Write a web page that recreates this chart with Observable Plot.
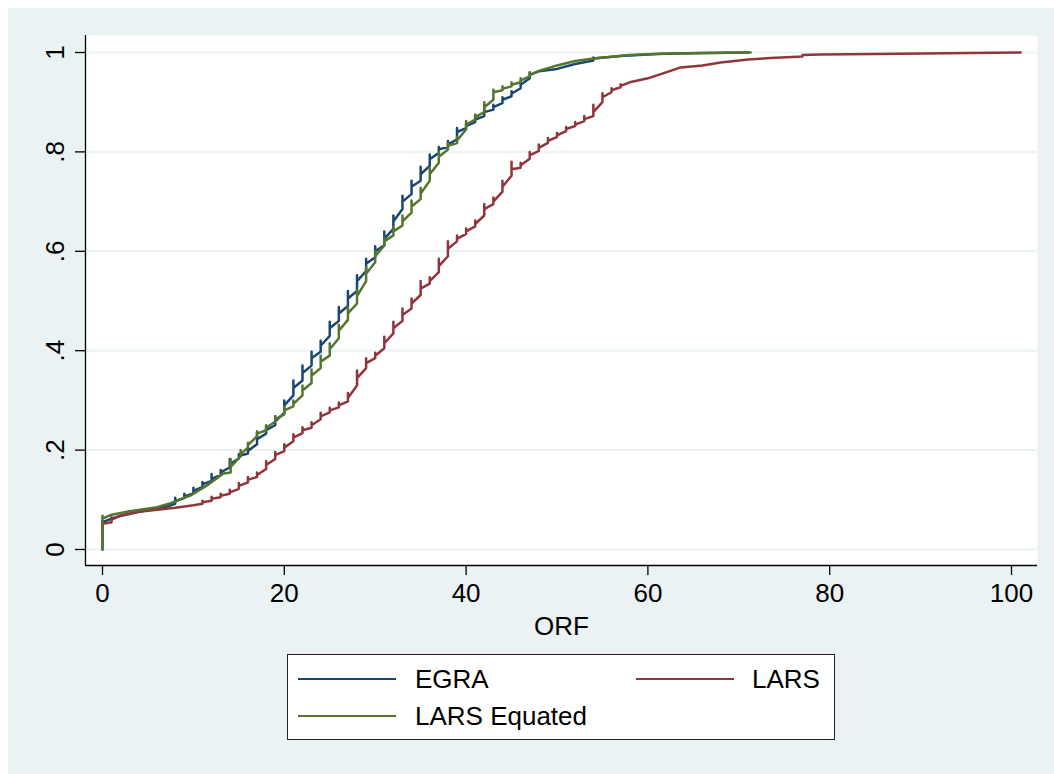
<!DOCTYPE html>
<html><head><meta charset="utf-8">
<script src="https://cdn.jsdelivr.net/npm/d3@7"></script>
<script src="https://cdn.jsdelivr.net/npm/@observablehq/plot@0.6"></script>
<style>
body{margin:0;background:#fff;font-family:"Liberation Sans",Arial,Helvetica,sans-serif;}
#bg{position:absolute;left:8px;top:8px;width:1046px;height:766px;background:#eaf2f3;}
#chart{position:absolute;left:0;top:0;}
#legend{position:absolute;left:287px;top:654px;width:546px;height:84px;background:#fff;border:1px solid #222;}
.sw{position:absolute;height:2px;}
.lt{position:absolute;font-size:26px;line-height:26px;color:#000;white-space:nowrap;}
</style></head><body>
<div id="bg"></div>
<div id="chart"></div>
<div id="legend"></div>
<script>
// ---- data ----
const seriesNames = ["EGRA", "LARS", "LARS Equated"];
const seriesColors = ["#1a476f", "#90353b", "#55752f"];
const xTicks = [0, 20, 40, 60, 80, 100];
const yTicks = [0, 0.2, 0.4, 0.6, 0.8, 1];
const yTickLabels = ["0", ".2", ".4", ".6", ".8", "1"];
const xLabel = "ORF";

// each row: [ORF value, cumulative values in plotted order (ties at the same ORF)]
const egra = [
  [0, 0, 0.055], [1, 0.062], [2, 0.068], [3, 0.072], [4, 0.076], [5, 0.079], [6, 0.082], [7, 0.086],
  [8, 0.092, 0.104, 0.097], [9, 0.104, 0.112, 0.107], [10, 0.113, 0.124, 0.118], [11, 0.126, 0.136, 0.131],
  [12, 0.138, 0.152, 0.142], [13, 0.150, 0.160, 0.155], [14, 0.165, 0.182, 0.172], [15, 0.183, 0.192, 0.188],
  [16, 0.193, 0.205, 0.198], [17, 0.212, 0.236, 0.222], [18, 0.233, 0.248, 0.24], [19, 0.25, 0.268, 0.258],
  [20, 0.275, 0.30, 0.29], [21, 0.31, 0.34, 0.325], [22, 0.34, 0.37, 0.355], [23, 0.37, 0.398, 0.385],
  [24, 0.398, 0.42, 0.41], [25, 0.43, 0.458, 0.445], [26, 0.46, 0.488, 0.475], [27, 0.49, 0.52, 0.505],
  [28, 0.52, 0.552, 0.54], [29, 0.56, 0.585, 0.575], [30, 0.588, 0.61, 0.60], [31, 0.612, 0.64, 0.625],
  [32, 0.645, 0.672, 0.66], [33, 0.685, 0.712, 0.70], [34, 0.715, 0.742, 0.73], [35, 0.742, 0.77, 0.755],
  [36, 0.772, 0.795, 0.785], [37, 0.798, 0.81, 0.805], [38, 0.81, 0.822, 0.815], [39, 0.825, 0.848, 0.84],
  [40, 0.848, 0.858, 0.852], [41, 0.86, 0.87, 0.865], [42, 0.872, 0.888, 0.88], [43, 0.885, 0.895, 0.89],
  [44, 0.898, 0.91, 0.905], [45, 0.912, 0.922, 0.917], [46, 0.928, 0.942, 0.935], [47, 0.948, 0.96, 0.955],
  [48, 0.962], [50, 0.967], [52, 0.977], [54, 0.984, 0.99, 0.988], [57, 0.993], [61, 0.997], [66, 0.999], [71, 1.0]
];
const lars = [
  [0, 0.045, 0.058, 0.052], [1, 0.055, 0.065, 0.06], [2, 0.068], [4, 0.076], [6, 0.08], [8, 0.084], [10, 0.089],
  [11, 0.092, 0.098, 0.095], [12, 0.098, 0.106, 0.102], [13, 0.105, 0.112, 0.108], [14, 0.112, 0.12, 0.115],
  [15, 0.122, 0.134, 0.128], [16, 0.135, 0.146, 0.14], [17, 0.146, 0.155, 0.15], [18, 0.162, 0.178, 0.17],
  [19, 0.182, 0.196, 0.19], [20, 0.198, 0.212, 0.205], [21, 0.218, 0.232, 0.225], [22, 0.234, 0.246, 0.24],
  [23, 0.245, 0.256, 0.25], [24, 0.262, 0.275, 0.268], [25, 0.276, 0.285, 0.28], [26, 0.286, 0.296, 0.29],
  [27, 0.298, 0.315, 0.305], [28, 0.33, 0.36, 0.345], [29, 0.365, 0.385, 0.375], [30, 0.385, 0.396, 0.39],
  [31, 0.405, 0.428, 0.415], [32, 0.435, 0.458, 0.445], [33, 0.46, 0.485, 0.472], [34, 0.485, 0.505, 0.495],
  [35, 0.512, 0.54, 0.525], [36, 0.535, 0.548, 0.54], [37, 0.558, 0.585, 0.57], [38, 0.59, 0.62, 0.605],
  [39, 0.62, 0.632, 0.625], [40, 0.635, 0.646, 0.64], [41, 0.65, 0.662, 0.655], [42, 0.672, 0.695, 0.685],
  [43, 0.695, 0.708, 0.70], [44, 0.72, 0.742, 0.73], [45, 0.752, 0.78, 0.765], [46, 0.768, 0.778, 0.773],
  [47, 0.786, 0.8, 0.793], [48, 0.802, 0.815, 0.808], [49, 0.818, 0.828, 0.822], [50, 0.83, 0.838, 0.833],
  [51, 0.842, 0.85, 0.846], [52, 0.852, 0.86, 0.855], [53, 0.862, 0.872, 0.866], [54, 0.872, 0.895, 0.88],
  [55, 0.9, 0.918, 0.91], [56, 0.92, 0.928, 0.924], [57, 0.93, 0.936, 0.933], [58, 0.94], [60, 0.948],
  [62, 0.96], [63.6, 0.97], [66, 0.974], [68, 0.98], [71, 0.986], [73.5, 0.989], [77, 0.992, 0.995],
  [79, 0.996], [85, 0.997], [101, 1.0]
];
const larsEquated = [
  [0, 0.0, 0.068, 0.062], [1, 0.07], [3, 0.077], [6, 0.085], [7.5, 0.093], [9.7, 0.109], [11.5, 0.129],
  [13.3, 0.153], [14.1, 0.155, 0.182, 0.166], [15.2, 0.188, 0.2, 0.192], [16, 0.205, 0.215, 0.21],
  [17, 0.228, 0.238, 0.233], [18, 0.24, 0.25, 0.245], [19, 0.257, 0.266, 0.262], [20, 0.272, 0.286, 0.28],
  [21, 0.288, 0.3, 0.293], [22, 0.31, 0.33, 0.32], [23, 0.335, 0.362, 0.35], [24, 0.365, 0.39, 0.378],
  [25, 0.39, 0.415, 0.403], [26, 0.425, 0.452, 0.44], [27, 0.462, 0.488, 0.475], [28, 0.495, 0.522, 0.51],
  [29, 0.54, 0.568, 0.555], [30, 0.578, 0.6, 0.59], [31, 0.612, 0.628, 0.62], [32, 0.632, 0.65, 0.64],
  [33, 0.652, 0.672, 0.66], [34, 0.678, 0.702, 0.69], [35, 0.705, 0.728, 0.716], [36, 0.742, 0.768, 0.755],
  [37, 0.778, 0.8, 0.79], [38, 0.805, 0.818, 0.812], [39, 0.818, 0.83, 0.823], [40, 0.845, 0.862, 0.855],
  [41, 0.865, 0.875, 0.87], [42, 0.88, 0.9, 0.89], [43, 0.905, 0.925, 0.92], [44, 0.924, 0.932, 0.927],
  [45, 0.932, 0.94, 0.935], [46, 0.94, 0.948, 0.944], [47, 0.952, 0.96, 0.955], [48, 0.963], [50, 0.974],
  [52, 0.983], [54, 0.988], [58, 0.995], [62, 0.998], [71.3, 1.0]
];

// ---- build point tables for Plot ----
function toPoints(name, rows) {
  const out = [];
  rows.forEach(r => { for (let i = 1; i < r.length; i++) out.push({series: name, x: r[0], y: r[i]}); });
  return out;
}
const pts = [
  toPoints(seriesNames[0], egra),
  toPoints(seriesNames[1], lars),
  toPoints(seriesNames[2], larsEquated)
];

const xDomain = [-1.87, 102.86];
const yDomain = [-0.0322, 1.0342];
const font = "'Liberation Sans', Arial, Helvetica, sans-serif";

const chart = Plot.plot({
  width: 1054, height: 650,
  marginLeft: 85, marginRight: 17, marginTop: 35, marginBottom: 85,
  x: {domain: xDomain, axis: null},
  y: {domain: yDomain, axis: null},
  style: {background: "transparent", fontFamily: font, color: "#000", overflow: "visible"},
  marks: [
    Plot.frame({fill: "white", stroke: "none"}),
    Plot.ruleY(yTicks, {stroke: "#eaf2f3", strokeWidth: 2}),
    Plot.line(pts[0], {x: "x", y: "y", stroke: seriesColors[0], strokeWidth: 2.5, curve: "linear"}),
    Plot.line(pts[1], {x: "x", y: "y", stroke: seriesColors[1], strokeWidth: 2.5, curve: "linear"}),
    Plot.line(pts[2], {x: "x", y: "y", stroke: seriesColors[2], strokeWidth: 2.5, curve: "linear"}),
    Plot.ruleX([xDomain[0]], {stroke: "#000", strokeWidth: 1.3}),
    Plot.ruleY([yDomain[0]], {stroke: "#000", strokeWidth: 1.3}),
    Plot.axisX(xTicks, {tickSize: 10, tickPadding: 8, fontSize: 26, stroke: "#000", strokeWidth: 1.3, label: null, fill: "#000"}),
    Plot.axisY(yTicks, {tickSize: 10, tickFormat: () => "", stroke: "#000", strokeWidth: 1.3, label: null}),
    Plot.text(yTicks, {y: d => d, frameAnchor: "left", dx: -22, rotate: -90, text: (d, i) => yTickLabels[i],
      fontSize: 26, textAnchor: "middle", lineAnchor: "bottom", fill: "#000"}),
    Plot.text([xLabel], {frameAnchor: "bottom", dy: 69, text: d => d, fontSize: 26, lineAnchor: "bottom", fill: "#000"})
  ]
});
document.getElementById("chart").appendChild(chart);

// ---- legend ----
const legend = document.getElementById("legend");
const items = [
  {name: seriesNames[0], color: seriesColors[0], sx: 10, sy: 23, tx: 127, ty: 11},
  {name: seriesNames[1], color: seriesColors[1], sx: 348, sy: 23, tx: 464, ty: 11},
  {name: seriesNames[2], color: seriesColors[2], sx: 10, sy: 60, tx: 127, ty: 48}
];
items.forEach(it => {
  const s = document.createElement("div");
  s.className = "sw";
  s.style.cssText = `left:${it.sx}px;top:${it.sy}px;width:98px;background:${it.color};`;
  legend.appendChild(s);
  const t = document.createElement("div");
  t.className = "lt";
  t.style.cssText = `left:${it.tx}px;top:${it.ty}px;`;
  t.textContent = it.name;
  legend.appendChild(t);
});
</script>
</body></html>
